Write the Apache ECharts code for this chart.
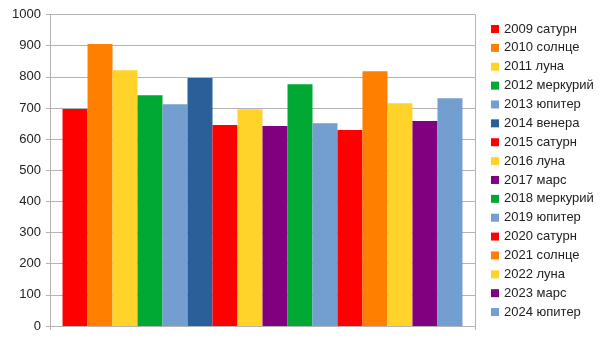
<!DOCTYPE html>
<html>
<head>
<meta charset="utf-8">
<script src="https://cdn.jsdelivr.net/npm/echarts@6/dist/echarts.min.js"></script>
<style>html,body{margin:0;padding:0;background:#fff}#c{width:606px;height:341px}</style>
</head>
<body>
<div id="c"></div>
<script>
const seriesNames = ['2009 сатурн','2010 солнце','2011 луна','2012 меркурий','2013 юпитер','2014 венера','2015 сатурн','2016 луна','2017 марс','2018 меркурий','2019 юпитер','2020 сатурн','2021 солнце','2022 луна','2023 марс','2024 юпитер'];
const seriesValues = [697, 905, 821, 741, 712, 796, 645, 696, 642, 776, 651, 629, 818, 715, 658, 731];
const seriesColors = ['#ff0000','#ff8000','#ffd32a','#00a933','#729fcf','#2a6099','#ff0000','#ffd32a','#800080','#00a933','#729fcf','#ff0000','#ff8000','#ffd32a','#800080','#729fcf'];
const categories = [''];
const yTicks = {min: 0, max: 1000, interval: 100};

const chart = echarts.init(document.getElementById('c'), null, {renderer: 'canvas'});
const font = 'Liberation Sans';
chart.setOption({
  animation: false,
  backgroundColor: '#ffffff',
  textStyle: {fontFamily: font},
  grid: {left: 50, right: 131, top: 14.5, bottom: 15, containLabel: false},
  legend: {
    orient: 'vertical', left: 491, top: 22, padding: 0,
    itemWidth: 8, itemHeight: 8, itemGap: 4.87, itemTextGap: 4,
    icon: 'rect',
    textStyle: {fontFamily: font, fontSize: 13, color: '#222', lineHeight: 14},
    data: seriesNames
  },
  xAxis: {
    type: 'category', data: categories,
    axisLine: {show: true, lineStyle: {color: '#b3b3b3'}},
    axisTick: {show: true, length: 4, lineStyle: {color: '#b3b3b3'}},
    axisLabel: {show: false},
    splitLine: {show: true, lineStyle: {color: '#b3b3b3'}}
  },
  yAxis: {
    type: 'value', min: yTicks.min, max: yTicks.max, interval: yTicks.interval,
    axisLine: {show: true, lineStyle: {color: '#b3b3b3'}},
    axisTick: {show: true, length: 4, lineStyle: {color: '#b3b3b3'}},
    axisLabel: {fontFamily: font, fontSize: 13, color: '#222', margin: 9, formatter: v => String(v)},
    splitLine: {show: true, lineStyle: {color: '#b3b3b3'}}
  },
  series: seriesNames.map((n, i) => ({
    name: n, type: 'bar', data: [seriesValues[i]],
    itemStyle: {color: seriesColors[i]},
    barGap: '0%', barCategoryGap: '5.9%'
  }))
});
</script>
</body>
</html>
